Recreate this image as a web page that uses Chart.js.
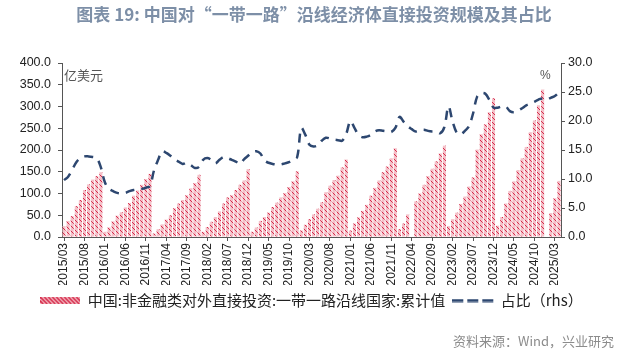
<!DOCTYPE html>
<html>
<head>
<meta charset="utf-8">
<script src="https://cdn.jsdelivr.net/npm/chart.js@4.4.1/dist/chart.umd.min.js"></script>
<style>
  html, body { margin: 0; padding: 0; background: #fff; }
  #wrap { width: 640px; height: 353px; position: relative; }
</style>
</head>
<body>
<div id="wrap"><canvas id="chart"></canvas></div>
<script>
// month labels 2015/03 .. 2025/04
const months = [];
for (let y = 2015, m = 3; y < 2025 || (y === 2025 && m <= 4); m++) {
    if (m > 12) { m = 1; y++; }
    months.push(y + '/' + String(m).padStart(2, '0'));
}

// 非金融类对外直接投资:一带一路沿线国家:累计值 (亿美元)
const invest2015 = [25, 37, 48, 71, 85, 108, 121, 132, 140, 149];
const invest2016 = [12, 22, 36, 49, 57, 68, 78, 95, 107, 120, 133, 145];
const invest2017 = [8, 18, 29, 40, 50, 66, 77, 85, 96, 112, 124, 143];
const invest2018 = [12, 23, 35, 46, 59, 77, 91, 96, 108, 120, 130, 156];
const invest2019 = [12, 22, 37, 46, 56, 69, 79, 91, 101, 115, 128, 151];
const invest2020 = [15, 28, 41, 52, 65, 80, 103, 118, 131, 141, 160, 178];
const invest2021 = [15, 31, 45, 60, 74, 95, 113, 130, 149, 162, 181, 204];
const invest2022 = [18, 31, 52, null, 82, 100, 120, 140, 157, 174, 192, 210];
const invest2023 = [25, 41, 56, 76, 93, 116, 137, 201, 236, 259, 287, 319];
const invest2024 = [26, 46, 77, 106, 128, 154, 181, 207, 241, 268, 303, 339];
const invest2025 = [null, 55, 89, 129];

// 占比 (%, rhs)
const share2015 = [9.8, 10.4, 11.6, 12.9, 13.6, 13.9, 13.9, 13.8, 13.6, 12.0];
const share2016 = [9.4, 8.3, 7.9, 7.6, 7.5, 7.6, 7.9, 8.1, 8.2, 8.3, 8.5, 8.8];
const share2017 = [11.5, 13.3, 14.8, 14.5, 14.0, 13.4, 13.0, 12.6, 12.8, 12.4, 11.9, 12.1];
const share2018 = [13.3, 13.6, 13.3, 12.7, 13.3, 13.8, 13.6, 13.3, 13.0, 12.6, 13.4, 14.0];
const share2019 = [14.6, 14.8, 14.4, 13.2, 12.8, 12.6, 12.5, 12.5, 12.7, 12.9, 13.3, 13.8];
const share2020 = [18.8, 17.6, 15.9, 15.6, 15.8, 16.6, 17.1, 17.0, 16.8, 16.7, 16.6, 17.8];
const share2021 = [20.0, 18.8, 17.6, 17.2, 17.3, 17.6, 18.2, 18.4, 18.3, 18.2, 18.1, 18.8];
const share2022 = [20.7, 19.9, 19.1, 18.6, 18.2, 18.4, 18.5, 18.3, 18.2, 18.2, 17.9, 19.0];
const share2023 = [22.5, 19.9, 18.0, 17.7, 18.3, 19.1, 21.3, 24.2, 24.8, 24.7, 23.6, 22.3];
const share2024 = [22.3, 22.5, 22.5, 21.7, 21.5, 21.8, 22.2, 22.7, 23.0, 23.3, 23.7, 23.9];
const share2025 = [23.7, 24.0, 24.3, 24.9];

const leftTicks = [0, 50, 100, 150, 200, 250, 300, 350, 400];
const rightTicks = [0, 5, 10, 15, 20, 25, 30];

const investment = [].concat(invest2015, invest2016, invest2017, invest2018, invest2019,
    invest2020, invest2021, invest2022, invest2023, invest2024, invest2025);
const share = [].concat(share2015, share2016, share2017, share2018, share2019,
    share2020, share2021, share2022, share2023, share2024, share2025);

const barPink = '#f4c0c8';
const barRed = '#d62a4a';
const lineBlue = '#2d4770';

function makeHatch() {
    const c = document.createElement('canvas');
    c.width = 5; c.height = 5;
    const g = c.getContext('2d');
    g.fillStyle = barPink;
    g.fillRect(0, 0, 5, 5);
    g.fillStyle = barRed;
    for (let i = 0; i < 5; i++) g.fillRect(i, i, 1, 1);
    return g.createPattern(c, 'repeat');
}

// legend swatches as small canvases
function hatchSwatch() {
    const c = document.createElement('canvas');
    c.width = 40; c.height = 7;
    const g = c.getContext('2d');
    g.fillStyle = barPink;
    g.fillRect(0, 0, 40, 7);
    g.strokeStyle = barRed;
    g.lineWidth = 1.6;
    for (let x = -8; x < 44; x += 4) {
        g.beginPath();
        g.moveTo(x, 0);
        g.lineTo(x + 7, 7);
        g.stroke();
    }
    return c;
}

function dashSwatch() {
    const c = document.createElement('canvas');
    c.width = 42; c.height = 4;
    const g = c.getContext('2d');
    g.fillStyle = lineBlue;
    [0, 15, 30].forEach(x => g.fillRect(x, 0.5, 11, 3));
    return c;
}

const cjk = '"Noto Sans CJK SC", "Noto Sans", sans-serif';
const num = '"Liberation Sans", Arial, sans-serif';

// title, unit labels and source line
const decorations = {
    id: 'decorations',
    afterDraw(chart) {
        const ctx = chart.ctx;
        ctx.save();
        ctx.textBaseline = 'middle';
        ctx.fillStyle = '#7d8fa7';
        ctx.font = 'bold 17px ' + cjk;
        ctx.textAlign = 'center';
        ctx.fillText('图表 19: 中国对“一带一路”沿线经济体直接投资规模及其占比', 314, 15);

        ctx.fillStyle = '#555';
        ctx.font = '13px ' + cjk;
        ctx.textAlign = 'left';
        ctx.fillText('亿美元', 64, 75);
        ctx.font = '12px ' + num;
        ctx.fillText('%', 540, 76);

        ctx.fillStyle = '#8c8c8c';
        ctx.font = '13px ' + cjk;
        ctx.textAlign = 'right';
        ctx.fillText('资料来源：Wind，兴业研究', 614, 341);
        ctx.restore();
    }
};

const axisColor = '#555';

new Chart(document.getElementById('chart'), {
    data: {
        labels: months,
        datasets: [
            {
                type: 'bar',
                label: '中国:非金融类对外直接投资:一带一路沿线国家:累计值',
                data: investment,
                yAxisID: 'y',
                backgroundColor: makeHatch(),
                borderWidth: 0,
                barPercentage: 0.75,
                categoryPercentage: 1.0,
                pointStyle: hatchSwatch(),
                order: 2
            },
            {
                type: 'line',
                label: '占比（rhs）',
                data: share,
                yAxisID: 'y1',
                borderColor: lineBlue,
                borderWidth: 2.5,
                borderDash: [9, 7],
                pointRadius: 0,
                tension: 0.35,
                spanGaps: true,
                pointStyle: dashSwatch(),
                order: 1
            }
        ]
    },
    options: {
        responsive: true,
        maintainAspectRatio: false,
        animation: false,
        layout: { padding: { top: 63, left: 18, right: 35, bottom: 35 } },
        plugins: {
            title: { display: false },
            tooltip: { enabled: false },
            legend: {
                position: 'bottom',
                labels: {
                    usePointStyle: true,
                    pointStyleWidth: 40,
                    boxHeight: 7,
                    padding: 8,
                    color: '#222',
                    font: { family: cjk, size: 15 },
                    sort: (a, b) => a.datasetIndex - b.datasetIndex
                }
            }
        },
        scales: {
            x: {
                offset: true,
                grid: {
                    offset: false,
                    drawOnChartArea: false,
                    drawTicks: true,
                    tickLength: 4,
                    color: axisColor
                },
                border: { display: true, color: axisColor, width: 1 },
                afterBuildTicks: (axis) => {
                    axis.ticks = axis.ticks.filter(t => t.value % 5 === 0);
                },
                afterFit: (scale) => { scale.height = 48; },
                ticks: {
                    autoSkip: false,
                    minRotation: 90,
                    maxRotation: 90,
                    padding: 2,
                    color: '#222',
                    font: { family: num, size: 12 }
                }
            },
            y: {
                position: 'left',
                min: 0,
                max: 400,
                afterBuildTicks: (axis) => {
                    axis.ticks = leftTicks.map(v => ({ value: v }));
                },
                afterFit: (scale) => { scale.width = 44; },
                grid: { drawOnChartArea: false, tickLength: 4, color: axisColor },
                border: { display: true, color: axisColor, width: 1 },
                ticks: {
                    padding: 7,
                    color: '#222',
                    font: { family: num, size: 12.5 },
                    callback: (v) => Number(v).toFixed(1)
                }
            },
            y1: {
                position: 'right',
                min: 0,
                max: 30,
                afterBuildTicks: (axis) => {
                    axis.ticks = rightTicks.map(v => ({ value: v }));
                },
                afterFit: (scale) => { scale.width = 44; },
                grid: { drawOnChartArea: false, tickLength: 4, color: axisColor },
                border: { display: true, color: axisColor, width: 1 },
                ticks: {
                    padding: 3,
                    color: '#222',
                    font: { family: num, size: 12.5 },
                    callback: (v) => Number(v).toFixed(1)
                }
            }
        }
    },
    plugins: [decorations]
});
</script>
</body>
</html>
